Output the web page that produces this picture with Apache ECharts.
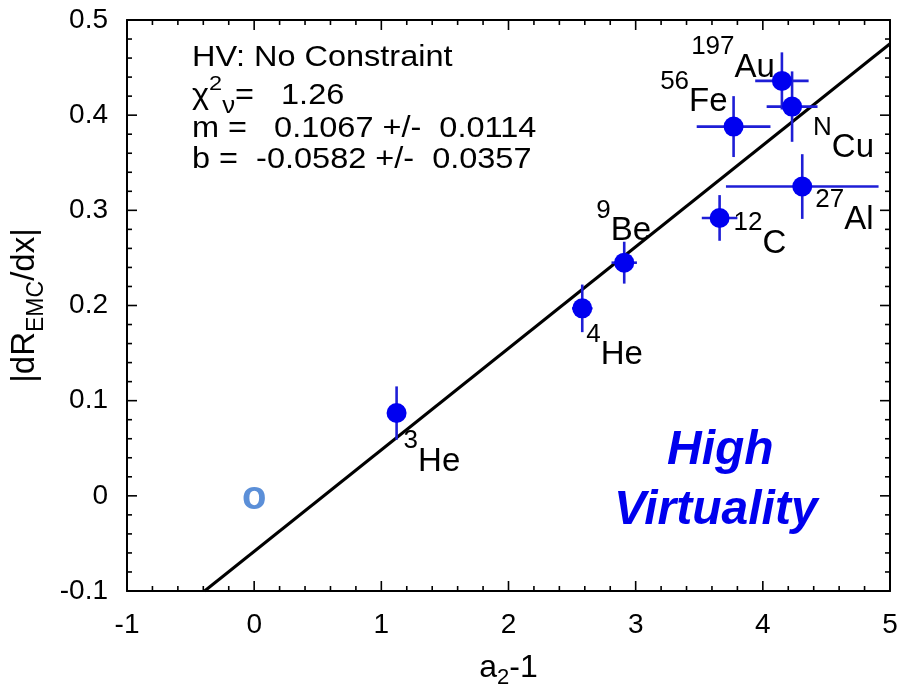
<!DOCTYPE html>
<html>
<head>
    <meta charset="utf-8">
    <title>EMC slope vs a2-1</title>
    <script src="https://cdn.jsdelivr.net/npm/echarts@6/dist/echarts.min.js"></script>
    <style>html, body { margin: 0; padding: 0; background: #fff; overflow: hidden; }</style>
</head>
<body>
    <div id="main" style="width: 905px;height:693px;"></div>
    <script type="text/javascript">
        // data
        var nuclei   = ['3He', '4He', '9Be', '12C', '27Al', '56Fe', 'NCu', '197Au'];
        var massTag  = ['3', '4', '9', '12', '27', '56', 'N', '197'];
        var element  = ['He', 'He', 'Be', 'C', 'Al', 'Fe', 'Cu', 'Au'];
        var a2m1     = [1.12, 2.58, 2.91, 3.66, 4.31, 3.77, 4.23, 4.15];
        var a2Err    = [0.04, 0.08, 0.10, 0.14, 0.60, 0.29, 0.20, 0.21];
        var slope    = [0.087, 0.197, 0.245, 0.292, 0.325, 0.388, 0.409, 0.436];
        var slopeErr = [0.028, 0.025, 0.022, 0.024, 0.034, 0.032, 0.037, 0.030];
        var fitLine  = [[-0.39, -0.1], [5, 0.475]];
        var xTicks   = [-1, 0, 1, 2, 3, 4, 5];
        var yTicks   = [-0.1, 0, 0.1, 0.2, 0.3, 0.4, 0.5];
        var fitText  = ['HV: No Constraint', '1.26', 'm =   0.1067 +/-  0.0114', 'b =  -0.0582 +/-  0.0357'];

        var FONT = '"Liberation Sans", Arial, sans-serif';
        var MINOR = 5;

        // label placement next to each point: [dx, dy, align]
        var labelPlace = {
            '3He':   [7, 40, 'left'],
            '4He':   [4, 38, 'left'],
            '9Be':   [-28, -40, 'left'],
            '12C':   [14, 17, 'left'],
            '27Al':  [13, 25, 'left'],
            '56Fe':  [-6, -33, 'right'],
            'NCu':   [21, 33, 'left'],
            '197Au': [-7, -22, 'right']
        };

        var points = [], bars = [];
        for (var i = 0; i < nuclei.length; i++) {
            var p = labelPlace[nuclei[i]];
            points.push({
                name: nuclei[i],
                value: [a2m1[i], slope[i]],
                label: { offset: [p[0], p[1]], align: p[2] }
            });
            bars.push([a2m1[i], slope[i], a2Err[i], slopeErr[i]]);
        }

        // tick marks (major + minor) on all four frame sides
        var tickMarks = [];
        function addTicks(list, dim) {
            for (var k = 0; k < list.length; k++) {
                tickMarks.push([dim, list[k], 1]);
                if (k < list.length - 1) {
                    var step = (list[k + 1] - list[k]) / MINOR;
                    for (var j = 1; j < MINOR; j++) tickMarks.push([dim, list[k] + step * j, 0]);
                }
            }
        }
        addTicks(xTicks, 0);
        addTicks(yTicks, 1);

        function axisCommon(pos, showLabel, margin) {
            return {
                type: 'value',
                position: pos,
                axisLine: { show: true, onZero: false, lineStyle: { color: '#000', width: 2 } },
                axisTick: { show: false },
                minorTick: { show: false },
                splitLine: { show: false },
                axisLabel: { show: showLabel, color: '#000', fontSize: 28, fontFamily: FONT, margin: margin }
            };
        }

        var xBottom = axisCommon('bottom', true, 20);
        xBottom.min = -1; xBottom.max = 5; xBottom.interval = 1;
        xBottom.name = 'a{sub|2}-1';
        xBottom.nameLocation = 'middle';
        xBottom.nameGap = 56;
        xBottom.nameTextStyle = {
            color: '#000', fontSize: 32, fontFamily: FONT,
            rich: { sub: { fontSize: 22, fontFamily: FONT, color: '#000', verticalAlign: 'bottom', lineHeight: 42 } }
        };
        var xTop = axisCommon('top', false, 8);
        xTop.min = -1; xTop.max = 5; xTop.interval = 1;

        var yLeft = axisCommon('left', true, 19);
        yLeft.min = -0.1; yLeft.max = 0.5; yLeft.interval = 0.1;
        yLeft.name = '|dR{sub|EMC}/dx|';
        yLeft.nameLocation = 'middle';
        yLeft.nameRotate = 90;
        yLeft.nameGap = 79;
        yLeft.nameTextStyle = {
            color: '#000', fontSize: 33, fontFamily: FONT,
            rich: { sub: { fontSize: 23, fontFamily: FONT, color: '#000', verticalAlign: 'bottom', lineHeight: 46 } }
        };
        var yRight = axisCommon('right', false, 8);
        yRight.min = -0.1; yRight.max = 0.5; yRight.interval = 0.1;

        function boxLine(y, text, rich) {
            return {
                type: 'text', x: 192, y: y, scaleX: 1.12,
                style: {
                    text: text, fill: '#000', font: '29px ' + FONT,
                    align: 'left', verticalAlign: 'middle', rich: rich
                }
            };
        }
        var chiRich = {
            t: { fontSize: 29, fontFamily: FONT, lineHeight: 44, fill: '#000' },
            sup: { fontSize: 21, fontFamily: FONT, lineHeight: 12, verticalAlign: 'top', fill: '#000' },
            sub: { fontSize: 23, fontFamily: FONT, lineHeight: 21, verticalAlign: 'bottom', fill: '#000' }
        };

        var myChart = echarts.init(document.getElementById('main'));
        var option = {
            backgroundColor: '#fff',
            animation: false,
            grid: { left: 127, right: 15, top: 20, bottom: 102, containLabel: false, outerBoundsMode: 'none' },
            xAxis: [xBottom, xTop],
            yAxis: [yLeft, yRight],
            graphic: [
                boxLine(58, fitText[0]),
                boxLine(96, '{t|χ}{sup|2}{sub|ν}{t|=   ' + fitText[1] + '}', chiRich),
                boxLine(129, fitText[2]),
                boxLine(160, fitText[3]),
                {
                    type: 'text', left: 667, top: 427,
                    style: { text: 'High', fill: '#0000ee', font: 'italic bold 48px ' + FONT }
                },
                {
                    type: 'text', left: 614, top: 487,
                    style: { text: 'Virtuality', fill: '#0000ee', font: 'italic bold 48px ' + FONT }
                },
                {
                    type: 'text', left: 242, top: 478,
                    style: { text: 'o', fill: '#5b8fd8', font: 'bold 40px ' + FONT }
                }
            ],
            series: [
                {
                    name: 'ticks',
                    type: 'custom',
                    data: tickMarks,
                    silent: true,
                    z: 1,
                    renderItem: function (params, api) {
                        var cs = params.coordSys;
                        var len = api.value(2) ? 10 : 5;
                        var st = { stroke: '#000', lineWidth: 1.6 };
                        var top = cs.y, bottom = cs.y + cs.height, left = cs.x, right = cs.x + cs.width;
                        if (api.value(0) === 0) {
                            var px = api.coord([api.value(1), 0])[0];
                            return { type: 'group', children: [
                                { type: 'line', shape: { x1: px, y1: bottom, x2: px, y2: bottom - len }, style: st },
                                { type: 'line', shape: { x1: px, y1: top, x2: px, y2: top + len }, style: st }
                            ] };
                        }
                        var py = api.coord([0, api.value(1)])[1];
                        return { type: 'group', children: [
                            { type: 'line', shape: { x1: left, y1: py, x2: left + len, y2: py }, style: st },
                            { type: 'line', shape: { x1: right, y1: py, x2: right - len, y2: py }, style: st }
                        ] };
                    }
                },
                {
                    name: 'fit',
                    type: 'line',
                    data: fitLine,
                    showSymbol: false,
                    clip: true,
                    lineStyle: { color: '#000', width: 3 },
                    z: 2
                },
                {
                    name: 'errors',
                    type: 'custom',
                    data: bars,
                    z: 3,
                    renderItem: function (params, api) {
                        var x = api.value(0), y = api.value(1), ex = api.value(2), ey = api.value(3);
                        var l = api.coord([x - ex, y]), r = api.coord([x + ex, y]);
                        var t = api.coord([x, y + ey]), b = api.coord([x, y - ey]);
                        var st = { stroke: '#1e1ed6', lineWidth: 2.6 };
                        return {
                            type: 'group',
                            children: [
                                { type: 'line', shape: { x1: l[0], y1: l[1], x2: r[0], y2: r[1] }, style: st },
                                { type: 'line', shape: { x1: t[0], y1: t[1], x2: b[0], y2: b[1] }, style: st }
                            ]
                        };
                    }
                },
                {
                    name: 'nuclei',
                    type: 'scatter',
                    data: points,
                    symbol: 'circle',
                    symbolSize: 20,
                    itemStyle: { color: '#0000f0', opacity: 1 },
                    z: 4,
                    label: {
                        show: true,
                        position: 'inside',
                        verticalAlign: 'middle',
                        color: '#000',
                        formatter: function (p) {
                            return '{sup|' + massTag[p.dataIndex] + '}{el|' + element[p.dataIndex] + '}';
                        },
                        rich: {
                            sup: { fontSize: 26, fontFamily: FONT, color: '#000', lineHeight: 22, verticalAlign: 'top' },
                            el: { fontSize: 33, fontFamily: FONT, color: '#000', lineHeight: 50, verticalAlign: 'bottom' }
                        }
                    }
                }
            ]
        };
        myChart.setOption(option);
    </script>
</body>
</html>
